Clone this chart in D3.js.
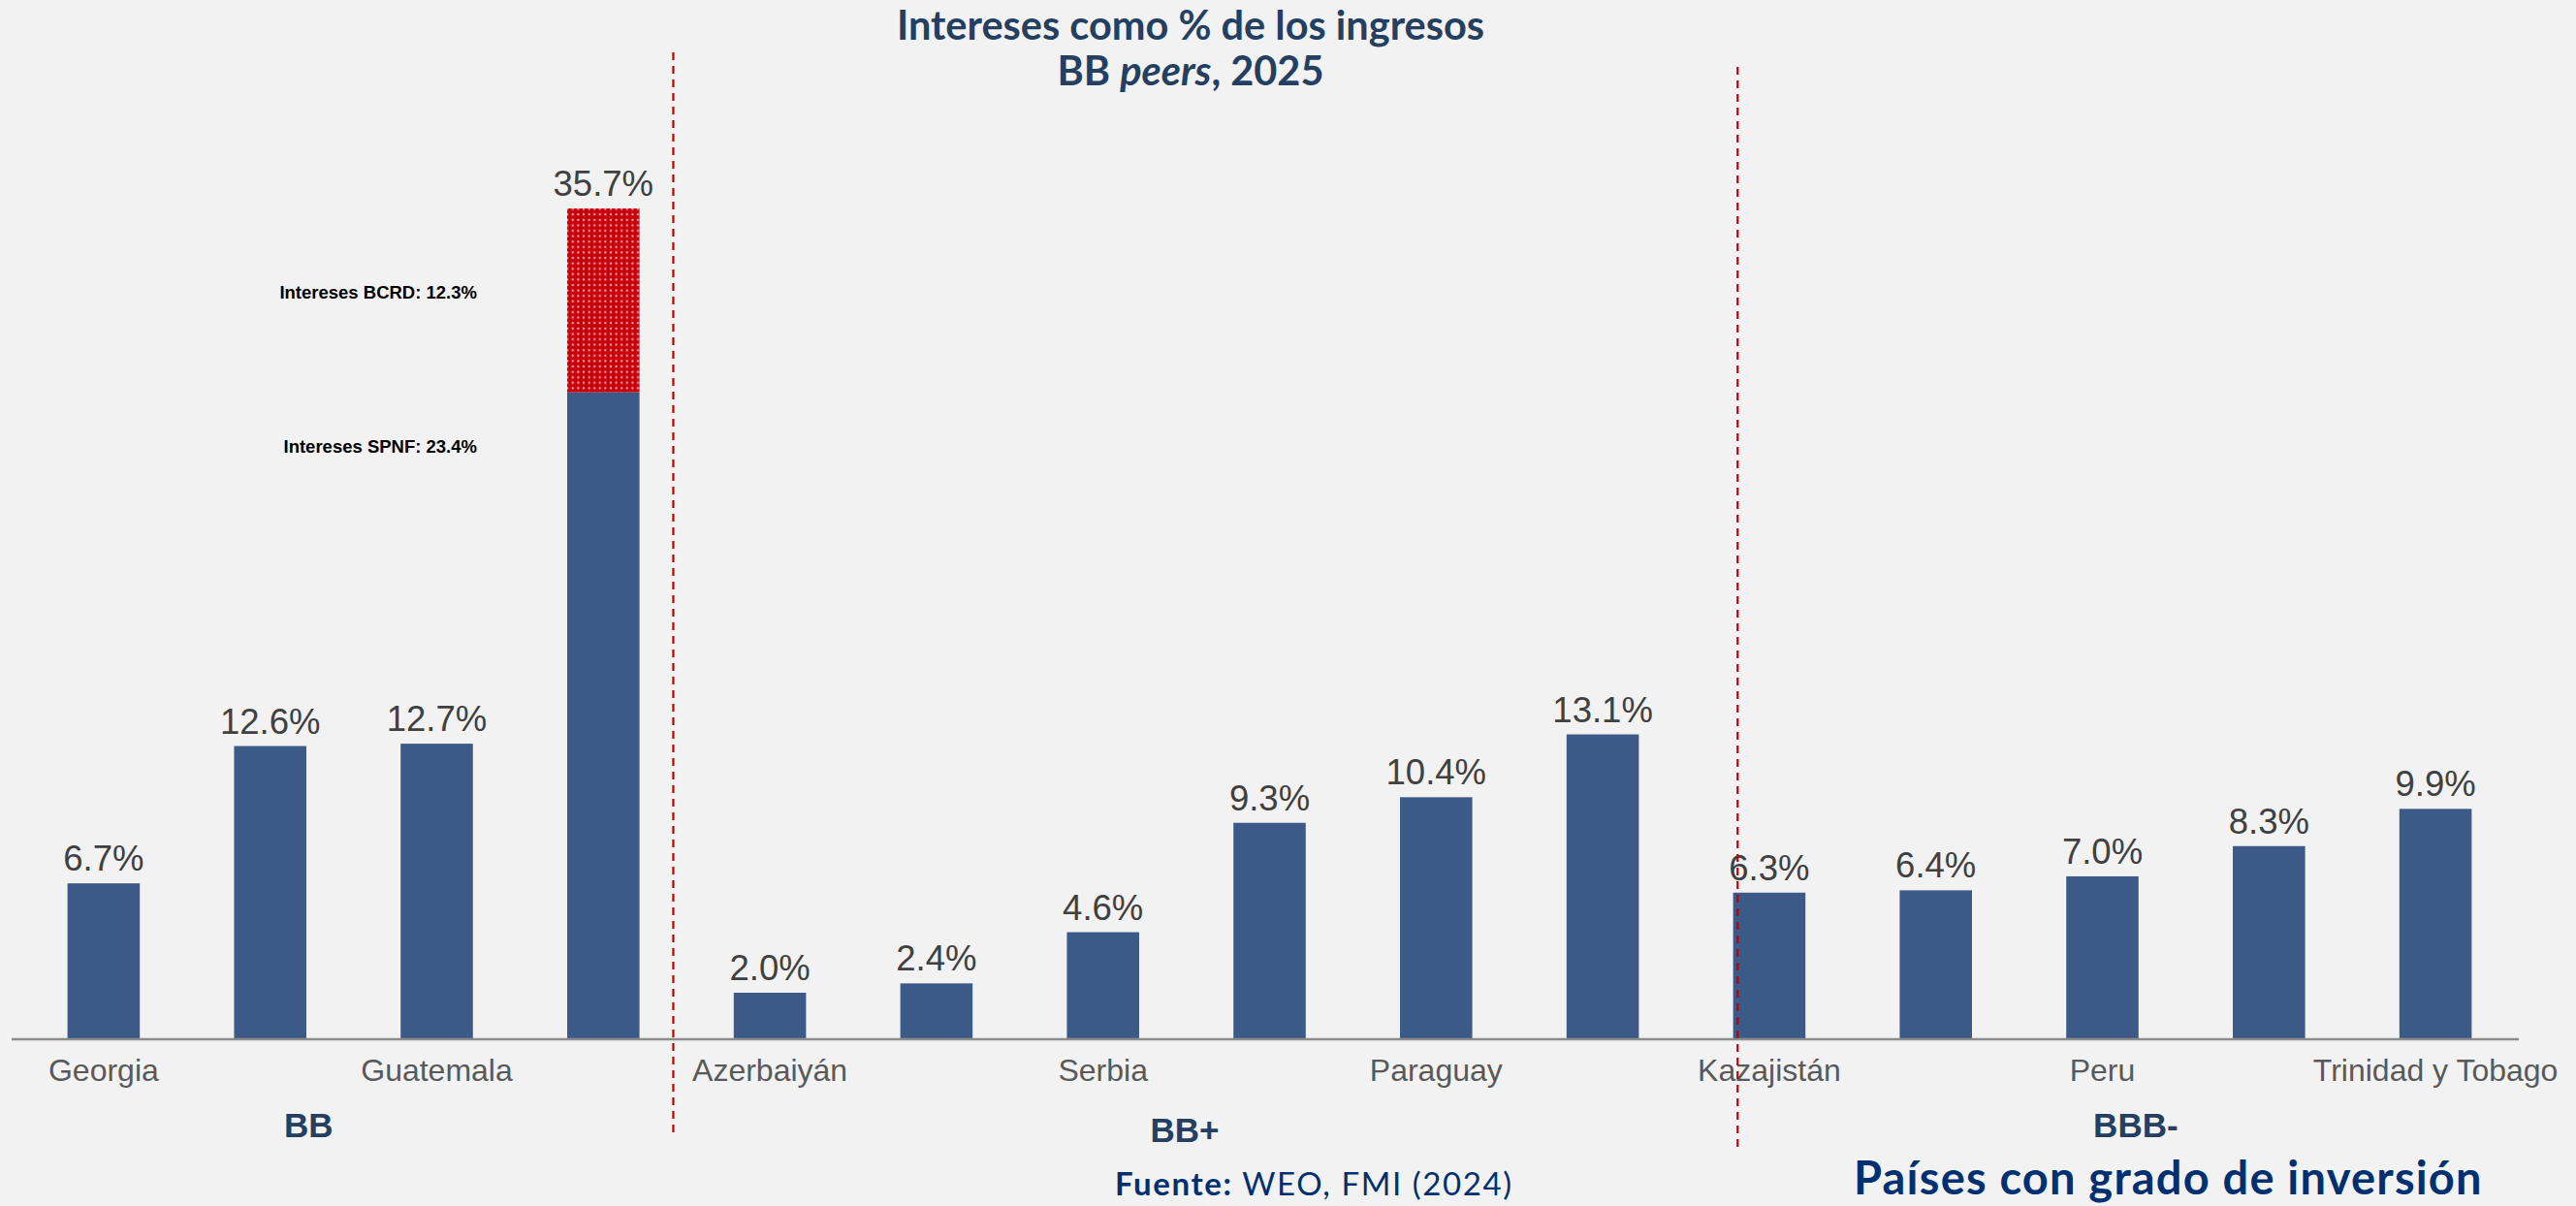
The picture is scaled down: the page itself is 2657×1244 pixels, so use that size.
<!DOCTYPE html>
<html>
<head>
<meta charset="utf-8">
<script src="https://cdn.jsdelivr.net/npm/d3@7"></script>
<style>
  html, body { margin: 0; padding: 0; background: #f2f2f2; }
  svg { display: block; }
</style>
</head>
<body>
<svg id="chart" width="2657" height="1244"></svg>
<script>
// ---- data ----
const categories = ["Georgia", "Costa Rica", "Guatemala", "Rep. Dominicana",
  "Azerbaiyán", "Marruecos", "Serbia", "Panamá", "Paraguay", "Colombia",
  "Kazajistán", "Hungría", "Peru", "Mexico", "Trinidad y Tobago"];
const shownTicks = ["Georgia", "Guatemala", "Azerbaiyán", "Serbia", "Paraguay",
  "Kazajistán", "Peru", "Trinidad y Tobago"];
const values = [6.7, 12.6, 12.7, 35.7, 2.0, 2.4, 4.6, 9.3, 10.4, 13.1, 6.3, 6.4, 7.0, 8.3, 9.9];
const valueLabels = ["6.7%", "12.6%", "12.7%", "35.7%", "2.0%", "2.4%", "4.6%", "9.3%",
  "10.4%", "13.1%", "6.3%", "6.4%", "7.0%", "8.3%", "9.9%"];
// stacked split of the highlighted bar, as drawn in the picture
const stackCategory = "Rep. Dominicana";
const stackLower = 27.8;   // Intereses SPNF (drawn height)
const stackUpper = 7.9;    // Intereses BCRD (drawn height)
const stackNotes = ["Intereses BCRD: 12.3%", "Intereses SPNF: 23.4%"];
const groups = ["BB", "BB+", "BBB-"];
const groupPos = [1.73, 6.99, 12.70];       // in category-index units
const dividerPos = [3.92, 10.31];          // in category-index units

// ---- setup ----
const svg = d3.select("#chart");
const W = 2657, H = 1244;
svg.append("rect").attr("width", W).attr("height", H).attr("fill", "#f2f2f2");

const x = d3.scaleBand().domain(categories).range([21, 2598])
  .paddingInner(0.566).paddingOuter(0.283);
const idx = d3.scaleLinear().domain([0, categories.length]).range([21, 2598]);
const y = d3.scaleLinear().domain([0, 35.7]).range([1072, 215]);

const barColor = "#3c5a87";

// pattern for upper segment
const defs = svg.append("defs");
const pat = defs.append("pattern").attr("id", "dots").attr("patternUnits", "userSpaceOnUse")
  .attr("width", 5.6).attr("height", 5.6);
pat.append("rect").attr("width", 5.6).attr("height", 5.6).attr("fill", "#c8000a");
pat.append("circle").attr("cx", 2.8).attr("cy", 2.8).attr("r", 1.1).attr("fill", "#ffffff").attr("opacity", 0.75);
const pat2 = defs.append("pattern").attr("id", "grid").attr("patternUnits", "userSpaceOnUse")
  .attr("width", 22.4).attr("height", 22.4);
pat2.append("rect").attr("width", 22.4).attr("height", 22.4).attr("fill", "url(#dots)");
pat2.append("path").attr("d", "M0,0 H22.4 M0,0 V22.4").attr("stroke", "#c00000").attr("stroke-width", 1.5);

// ---- bars ----
const data = categories.map((c, i) => ({ c, v: values[i], label: valueLabels[i] }));
svg.append("g").selectAll("rect").data(data.filter(d => d.c !== stackCategory)).join("rect")
  .attr("x", d => x(d.c)).attr("width", x.bandwidth())
  .attr("y", d => y(d.v)).attr("height", d => y(0) - y(d.v))
  .attr("fill", barColor);

// stacked bar
svg.append("rect").attr("x", x(stackCategory)).attr("width", x.bandwidth())
  .attr("y", y(stackLower)).attr("height", y(0) - y(stackLower)).attr("fill", barColor);
svg.append("rect").attr("x", x(stackCategory)).attr("width", x.bandwidth())
  .attr("y", y(stackLower + stackUpper)).attr("height", y(stackLower) - y(stackLower + stackUpper))
  .attr("fill", "url(#grid)");

// value labels
svg.append("g").selectAll("text").data(data).join("text")
  .attr("x", d => x(d.c) + x.bandwidth() / 2)
  .attr("y", d => y(d.v) - 13)
  .attr("text-anchor", "middle")
  .attr("font-family", "Liberation Sans, Arial, sans-serif")
  .attr("font-size", 36.5).attr("fill", "#404040")
  .text(d => d.label);

// stack notes
svg.append("text").attr("x", 492).attr("y", 308).attr("text-anchor", "end")
  .attr("font-family", "Liberation Sans, Arial, sans-serif").attr("font-weight", "bold")
  .attr("font-size", 18.5).attr("fill", "#000").text(stackNotes[0]);
svg.append("text").attr("x", 492).attr("y", 467).attr("text-anchor", "end")
  .attr("font-family", "Liberation Sans, Arial, sans-serif").attr("font-weight", "bold")
  .attr("font-size", 18.5).attr("fill", "#000").text(stackNotes[1]);

// ---- x axis ----
const xAxis = d3.axisBottom(x).tickSize(0).tickPadding(0)
  .tickFormat(d => shownTicks.includes(d) ? d : "");
const gx = svg.append("g").attr("transform", "translate(0,1072)").call(xAxis);
gx.select(".domain").remove();
gx.selectAll("text").attr("dy", null).attr("y", 43)
  .attr("font-family", "Liberation Sans, Arial, sans-serif")
  .attr("font-size", 32).attr("fill", "#595959");
svg.append("line").attr("x1", 12).attr("x2", 2598).attr("y1", 1072).attr("y2", 1072)
  .attr("stroke", "#8c8c8c").attr("stroke-width", 2.5);

// ---- dividers ----
const divY = [[54, 1170], [69, 1184]];
svg.append("g").selectAll("line").data(dividerPos).join("line")
  .attr("x1", d => idx(d)).attr("x2", d => idx(d))
  .attr("y1", (d, i) => divY[i][0]).attr("y2", (d, i) => divY[i][1])
  .attr("stroke", "#c00000").attr("stroke-width", 2.2).attr("stroke-dasharray", "8,6");

// ---- group labels ----
const groupBase = [1173, 1178, 1173];
svg.append("g").selectAll("text").data(groups).join("text")
  .attr("x", (d, i) => idx(groupPos[i])).attr("y", (d, i) => groupBase[i])
  .attr("text-anchor", "middle")
  .attr("font-family", "Liberation Sans, Arial, sans-serif").attr("font-weight", "bold")
  .attr("font-size", 35).attr("fill", "#243f60").text(d => d);

// ---- title ----
const t1 = svg.append("text").attr("x", 1228).attr("y", 41).attr("text-anchor", "middle")
  .attr("font-family", "Lato, sans-serif").attr("font-weight", "bold")
  .attr("font-size", 41.5).attr("fill", "#243f60").text("Intereses como % de los ingresos");
const t2 = svg.append("text").attr("x", 1228).attr("y", 88).attr("text-anchor", "middle")
  .attr("font-family", "Lato, sans-serif").attr("font-weight", "bold")
  .attr("font-size", 41.5).attr("fill", "#243f60");
t2.append("tspan").text("BB ");
t2.append("tspan").attr("font-style", "italic").text("peers");
t2.append("tspan").text(", 2025");

// ---- footer ----
const f = svg.append("text").attr("x", 1150).attr("y", 1233)
  .attr("font-family", "Lato, sans-serif").attr("font-size", 33)
  .attr("letter-spacing", 1.6).attr("fill", "#003070");
f.append("tspan").attr("font-weight", "bold").text("Fuente: ");
f.append("tspan").text("WEO, FMI (2024)");

svg.append("text").attr("x", 1912).attr("y", 1232)
  .attr("font-family", "Lato, sans-serif").attr("font-weight", "bold")
  .attr("font-size", 47).attr("letter-spacing", 1.2)
  .attr("fill", "#003070").text("Países con grado de inversión");
</script>
</body>
</html>
